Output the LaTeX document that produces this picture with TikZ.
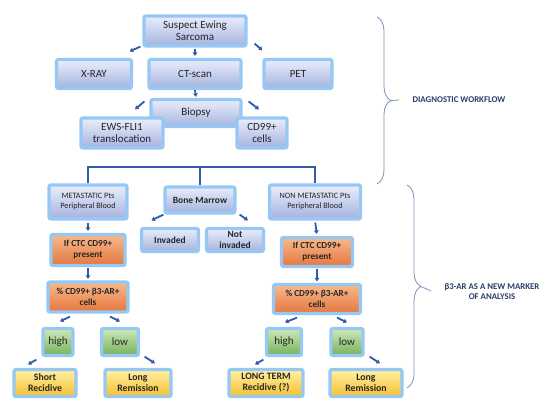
\documentclass[tikz,border=0pt]{standalone}
\usepackage{fontspec}
\setmainfont{Carlito}
\definecolor{glow}{RGB}{150, 200, 245}
\definecolor{main}{RGB}{50, 90, 170}
\definecolor{bluetop}{RGB}{234, 237, 252}
\definecolor{bluebot}{RGB}{165, 180, 222}
\definecolor{orangetop}{RGB}{248, 185, 140}
\definecolor{orangebot}{RGB}{228, 118, 62}
\definecolor{greentop}{RGB}{205, 232, 185}
\definecolor{greenbot}{RGB}{118, 178, 92}
\definecolor{yellowtop}{RGB}{255, 240, 165}
\definecolor{yellowbot}{RGB}{244, 192, 48}
\definecolor{bracecol}{RGB}{125, 145, 185}
\definecolor{notecol}{RGB}{45, 60, 105}
\usetikzlibrary{arrows.meta, decorations.pathreplacing}

\begin{document}
\begin{tikzpicture}[x=1pt, y=-1pt,
            block/.style={draw=glow, line width=3.2pt, rounded corners=2pt, top color=bluetop, bottom color=bluebot, align=center, inner sep=1pt, text=black!85, font=\fontsize{11}{12.5}\selectfont},
            small/.style={block, font=\fontsize{8.2}{10}\selectfont},
            bold/.style={block, font=\bfseries\fontsize{9.5}{11}\selectfont},
            ctc/.style={block, top color=orangetop, bottom color=orangebot, font=\bfseries\fontsize{9.2}{11}\selectfont},
            level/.style={block, top color=greentop, bottom color=greenbot, font=\fontsize{11}{12}\selectfont},
            outcome/.style={block, top color=yellowtop, bottom color=yellowbot, font=\bfseries\fontsize{9.8}{11}\selectfont},
            arr/.style={-{Triangle[length=3.5pt, width=4.5pt]}, line width=1.8pt, main},
            tree/.style={line width=1.4pt, main},
            bracket/.style={bracecol, line width=0.8pt},
            note/.style={text=notecol, align=center, font=\bfseries\fontsize{8.8}{10}\selectfont}
        ]
            \useasboundingbox (0,0) rectangle (550,417);
            \node[block, minimum width=102pt, minimum height=30pt] (sus) at (195,31) {Suspect Ewing\\Sarcoma};
            \node[block, minimum width=75pt, minimum height=29pt] (xray) at (94,74) {X-RAY};
            \node[block, minimum width=92pt, minimum height=29pt] (ct) at (195,74) {CT-scan};
            \node[block, minimum width=68pt, minimum height=29pt] (pet) at (298,74) {PET};
            \node[block, minimum width=90pt, minimum height=27pt] (biopsy) at (196,113) {Biopsy};
            \node[block, minimum width=82pt, minimum height=30pt] (ews) at (122,133) {EWS-FLI1\\translocation};
            \node[block, minimum width=50pt, minimum height=30pt] (cd99) at (262,133) {CD99+\\cells};
            \node[small, minimum width=78pt, minimum height=34pt] (meta) at (88,202) {METASTATIC Pts\\Peripheral Blood};
            \node[bold, minimum width=70pt, minimum height=26pt] (bone) at (200,200) {Bone Marrow};
            \node[bold, minimum width=57pt, minimum height=23pt] (inv) at (170,240) {Invaded};
            \node[bold, minimum width=57pt, minimum height=23pt] (notinv) at (235,240) {Not\\invaded};
            \node[small, minimum width=91pt, minimum height=34pt] (nonmeta) at (315,202) {NON METASTATIC Pts\\Peripheral Blood};
            \node[ctc, minimum width=74pt, minimum height=31pt] (ctcl) at (88,250) {If CTC CD99+\\present};
            \node[ctc, minimum width=71pt, minimum height=29pt] (ctcr) at (317,252) {If CTC CD99+\\present};
            \node[ctc, minimum width=80pt, minimum height=30pt] (pctl) at (88,297) {\% CD99+ β3-AR+\\cells};
            \node[ctc, minimum width=87pt, minimum height=29pt] (pctr) at (317,299) {\% CD99+ β3-AR+\\cells};
            \node[level, minimum width=30pt, minimum height=27pt] (highl) at (58,342) {high};
            \node[level, minimum width=37pt, minimum height=27pt] (lowl) at (120,342) {low};
            \node[level, minimum width=35pt, minimum height=27pt] (highr) at (284,342) {high};
            \node[level, minimum width=32pt, minimum height=27pt] (lowr) at (347,342) {low};
            \node[outcome, minimum width=62pt, minimum height=27pt] (short) at (45,383) {Short\\Recidive};
            \node[outcome, minimum width=66pt, minimum height=27pt] (longl) at (138,383) {Long\\Remission};
            \node[outcome, minimum width=74pt, minimum height=27pt] (longterm) at (266,383) {LONG TERM\\Recidive (?)};
            \node[outcome, minimum width=72pt, minimum height=27pt] (longr) at (366,383) {Long\\Remission};
            \coordinate (split) at (200,167);
            \draw[tree] (meta.north) |- (split) -| (nonmeta.north);
            \draw[tree] (split) -- (bone.north);
            \draw[arr] ([shift={(-2,-1)}]sus.south west) -- ([shift={(-3.5,-6.5)}]xray.north east);
            \draw[arr, shorten <=1pt, shorten >=2pt] (sus.south) -- (ct.north);
            \draw[arr] ([shift={(7,-4)}]sus.south east) -- ([shift={(0,-7.5)}]pet.north west);
            \draw[arr, shorten >=1pt] (ct.south) -- (biopsy.north);
            \draw[arr] ([shift={(-5,3.5)}]biopsy.north west) -- ([shift={(13,-7)}]ews.north);
            \draw[arr] ([shift={(6,3.5)}]biopsy.north east) -- ([shift={(-3,-7)}]cd99.north);
            \draw[arr, shorten <=2pt, shorten >=2pt] (meta.south) -- (ctcl.north);
            \draw[arr] (bone.south west) -- ([shift={(11.5,-6.5)}]inv.north west);
            \draw[arr] ([shift={(3,0)}]bone.south east) -- ([shift={(13,-6.5)}]notinv.north);
            \draw[arr, shorten <=2pt, shorten >=2pt] (nonmeta.south) -- (ctcr.north);
            \draw[arr, shorten <=1pt, shorten >=1.5pt] (ctcl.south) -- (pctl.north);
            \draw[arr, shorten <=1pt, shorten >=1.5pt] (ctcr.south) -- (pctr.north);
            \draw[arr] ([shift={(-18,3)}]pctl.south) -- ([shift={(2,-5.5)}]highl.north);
            \draw[arr] ([shift={(22,3)}]pctl.south) -- ([shift={(0,-5.5)}]lowl.north);
            \draw[arr] ([shift={(-5,2.5)}]highl.south west) -- ([shift={(-17,-3.5)}]short.north);
            \draw[arr] ([shift={(4.5,-0.5)}]lowl.south east) -- ([shift={(17,-4.5)}]longl.north);
            \draw[arr] ([shift={(-20,2.5)}]pctr.south) -- ([shift={(1,-4.5)}]highr.north);
            \draw[arr] ([shift={(20,2.5)}]pctr.south) -- ([shift={(0,-4.5)}]lowr.north);
            \draw[arr] ([shift={(-1.5,2.5)}]highr.south west) -- ([shift={(-11,-3.5)}]longterm.north);
            \draw[arr] ([shift={(5,-0.5)}]lowr.south east) -- ([shift={(14,-4.5)}]longr.north);
            \node[note] (diag) at (459,100) {DIAGNOSTIC WORKFLOW};
            \node[note] (marker) at (492,291) {β3-AR AS A NEW MARKER\\OF ANALYSIS};
            \draw[bracket, decorate, decoration={brace, amplitude=14pt}] (377,17) -- (377,184) coordinate[midway, xshift=14pt] (dwtip);
            \draw[bracket] (dwtip) -- ([xshift=-10pt]diag.west);
            \draw[bracket, decorate, decoration={brace, amplitude=14pt}] (407,185) -- (407,388) coordinate[midway, xshift=14pt] (mktip);
            \draw[bracket] (mktip) -- ([xshift=-10pt]marker.west);
        \end{tikzpicture}
\end{document}
